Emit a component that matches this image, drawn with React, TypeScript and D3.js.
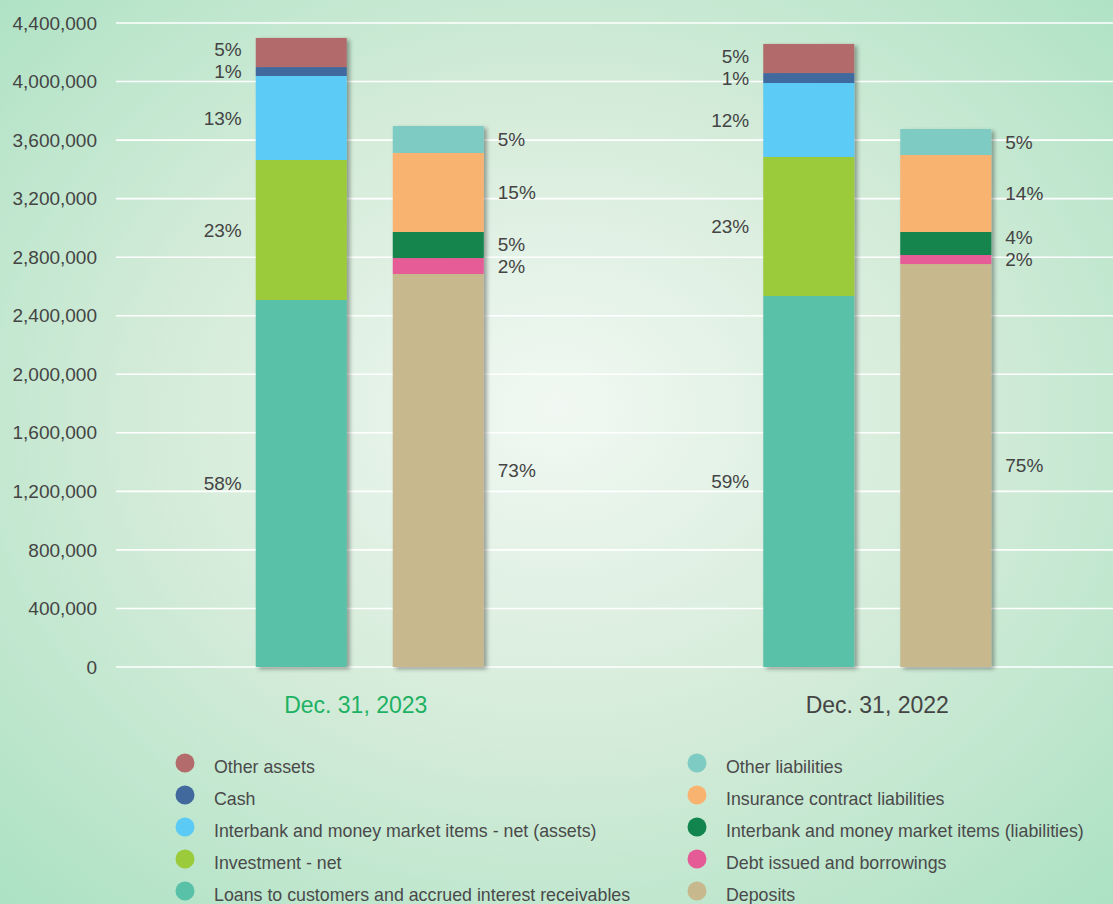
import React from 'react';
import * as d3 from 'd3';

const categories = ['Dec. 31, 2023', 'Dec. 31, 2022'];
const sides = ['assets', 'liabilities'];

// Assets (bottom to top)
const loans = [2508000, 2535000];
const investment = [956000, 950000];
const interbankAssets = [574000, 505000];
const cash = [61000, 68000];
const otherAssets = [199000, 199000];

// Liabilities (bottom to top)
const deposits = [2685000, 2753000];
const debtIssued = [109000, 62000];
const interbankLiab = [178000, 157000];
const insurance = [540000, 526000];
const otherLiab = [184000, 178000];

// Percent labels as printed
const loansPct = ['58%', '59%'];
const investmentPct = ['23%', '23%'];
const interbankAssetsPct = ['13%', '12%'];
const cashPct = ['1%', '1%'];
const otherAssetsPct = ['5%', '5%'];
const depositsPct = ['73%', '75%'];
const debtPct = ['2%', '2%'];
const interbankLiabPct = ['5%', '4%'];
const insurancePct = ['15%', '14%'];
const otherLiabPct = ['5%', '5%'];

const yTicks = [0, 400000, 800000, 1200000, 1600000, 2000000, 2400000, 2800000, 3200000, 3600000, 4000000, 4400000];

type Series = { name: string; values: number[]; pct: string[]; color: string };

const assetSeries: Series[] = [
  { name: 'Loans to customers and accrued interest receivables', values: loans, pct: loansPct, color: '#59c1a8' },
  { name: 'Investment - net', values: investment, pct: investmentPct, color: '#9bca3b' },
  { name: 'Interbank and money market items - net (assets)', values: interbankAssets, pct: interbankAssetsPct, color: '#5bcbf5' },
  { name: 'Cash', values: cash, pct: cashPct, color: '#41699e' },
  { name: 'Other assets', values: otherAssets, pct: otherAssetsPct, color: '#b36b6b' },
];

const liabSeries: Series[] = [
  { name: 'Deposits', values: deposits, pct: depositsPct, color: '#c7b98d' },
  { name: 'Debt issued and borrowings', values: debtIssued, pct: debtPct, color: '#e55b96' },
  { name: 'Interbank and money market items (liabilities)', values: interbankLiab, pct: interbankLiabPct, color: '#12854e' },
  { name: 'Insurance contract liabilities', values: insurance, pct: insurancePct, color: '#f9b371' },
  { name: 'Other liabilities', values: otherLiab, pct: otherLiabPct, color: '#7ecbc4' },
];

const W = 1113;
const H = 904;
const plotLeft = 116;
const y = d3.scaleLinear().domain([0, 4400000]).range([667, 23]);
const x0 = d3.scaleBand<string>().domain(categories).range([plotLeft, 1131]).padding(0);
const x1 = d3.scaleBand<string>().domain(sides).range([-114, 114]).paddingInner(46 / 137).paddingOuter(0);
const fmt = d3.format(',');

const labelFont = "'Liberation Sans', Arial, sans-serif";

function stackSeries(series: Series[]) {
  const rows = categories.map((c, i) => {
    const r: Record<string, number> = {};
    series.forEach((s) => (r[s.name] = s.values[i]));
    return r;
  });
  return d3.stack<Record<string, number>>().keys(series.map((s) => s.name))(rows);
}

export default function App() {
  const stacks = [
    { side: 'assets', series: assetSeries, layers: stackSeries(assetSeries) },
    { side: 'liabilities', series: liabSeries, layers: stackSeries(liabSeries) },
  ];

  const legendLeft = [...assetSeries].reverse();
  const legendRight = [...liabSeries].reverse();

  return (
    <svg width={W} height={H} style={{ position: 'absolute', left: 0, top: 0 }} fontFamily={labelFont}>
      <defs>
        <radialGradient id="bg" cx="50%" cy="48%" r="75%" fx="50%" fy="45%">
          <stop offset="0%" stopColor="#f1f8f3" />
          <stop offset="45%" stopColor="#d6ecda" />
          <stop offset="100%" stopColor="#a9e1c2" />
        </radialGradient>
        <filter id="shadow" x="-10%" y="-10%" width="130%" height="130%">
          <feDropShadow dx="3" dy="2" stdDeviation="2" floodColor="#000" floodOpacity="0.35" />
        </filter>
      </defs>
      <rect x={0} y={0} width={W} height={H} fill="url(#bg)" />

      {yTicks.map((t) => (
        <g key={t}>
          <line x1={plotLeft} x2={W} y1={y(t)} y2={y(t)} stroke="#ffffff" strokeWidth={1.6} />
          <text x={97} y={y(t)} dy="0.35em" textAnchor="end" fontSize={19} fill="#444">
            {fmt(t)}
          </text>
        </g>
      ))}

      {categories.map((c, ci) => {
        const cx = (x0(c) as number) + x0.bandwidth() / 2;
        return (
          <g key={c}>
            {stacks.map((st) => {
              const bx = cx + (x1(st.side) as number);
              const bw = x1.bandwidth();
              const isAssets = st.side === 'assets';
              // label positions: segment centres, pushed apart from the bottom up
              const ys: number[] = [];
              st.layers.forEach((layer, li) => {
                const d = layer[ci];
                const mid = (y(d[0]) + y(d[1])) / 2;
                ys.push(li === 0 ? mid : Math.min(mid, ys[li - 1] - 22));
              });
              return (
                <g key={st.side}>
                  <g filter="url(#shadow)">
                    {st.layers.map((layer, li) => {
                      const d = layer[ci];
                      return (
                        <rect
                          key={li}
                          x={bx}
                          width={bw}
                          y={y(d[1])}
                          height={y(d[0]) - y(d[1])}
                          fill={st.series[li].color}
                        />
                      );
                    })}
                  </g>
                  {st.layers.map((layer, li) => (
                    <text
                      key={'t' + li}
                      x={isAssets ? bx - 14 : bx + bw + 14}
                      y={ys[li]}
                      dy="0.35em"
                      textAnchor={isAssets ? 'end' : 'start'}
                      fontSize={19}
                      fill="#444"
                    >
                      {st.series[li].pct[ci]}
                    </text>
                  ))}
                </g>
              );
            })}
            <text
              x={ci === 0 ? cx - 14 : cx}
              y={705}
              dy="0.35em"
              textAnchor="middle"
              fontSize={23}
              fontFamily="'Liberation Sans Narrow', 'Liberation Sans', Arial, sans-serif"
              fill={ci === 0 ? '#1db163' : '#444'}
            >
              {c}
            </text>
          </g>
        );
      })}

      {[legendLeft, legendRight].map((col, k) => (
        <g key={k}>
          {col.map((s, i) => {
            const cy = 763 + i * 32;
            const cxL = k === 0 ? 185 : 697;
            return (
              <g key={s.name}>
                <circle cx={cxL} cy={cy} r={9.5} fill={s.color} />
                <text x={cxL + 29} y={cy + 4} dy="0.35em" fontSize={17.8} fill="#4a4a4a">
                  {s.name}
                </text>
              </g>
            );
          })}
        </g>
      ))}
    </svg>
  );
}
